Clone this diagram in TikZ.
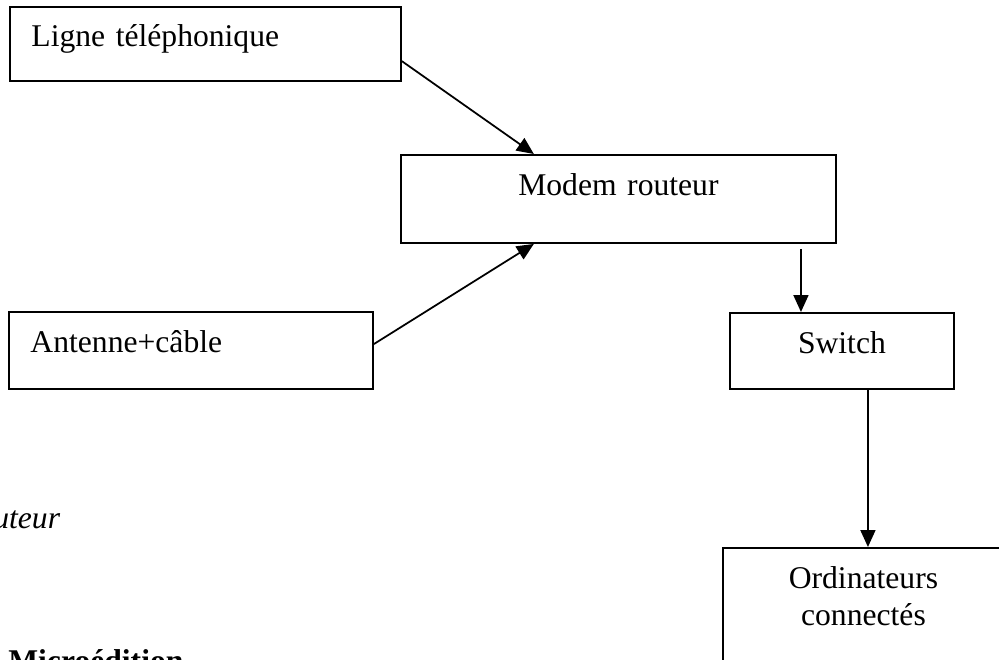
\documentclass[tikz,border=0pt]{standalone}
\usepackage{fontspec}
\setmainfont{Liberation Serif}
\usetikzlibrary{arrows.meta}

\tikzset{
  boite/.style = {draw, rectangle, line width=1.1pt, inner ysep=0pt, anchor=north west,
    font=\fontsize{18}{21}\selectfont, text height=0.44cm},
  fleche/.style = {line width=1pt, -{Triangle[length=0.34cm,width=0.3cm]}}
}

\begin{document}
\begin{tikzpicture}[x=0.02cm, y=-0.02cm]
  \clip (0,0) rectangle (999,659);

  \node[boite, inner xsep=0.43cm, text width=6.96cm, align=left, minimum height=1.48cm, text depth=0.32cm] (ligne) at (9,6) {Ligne téléphonique};
  \node[boite, inner xsep=0pt, text width=8.7cm, align=center, minimum height=1.76cm, text depth=0.56cm] (modem) at (400,154) {Modem routeur};
  \node[boite, inner xsep=0.43cm, text width=6.42cm, align=left, minimum height=1.54cm, text depth=0.34cm] (antenne) at (8,311) {Antenne+câble};
  \node[boite, inner xsep=0pt, text width=4.48cm, align=center, minimum height=1.52cm, text depth=0.32cm] (switch) at (729,312) {Switch};
  \node[boite, inner xsep=0pt, text width=5.62cm, align=center, minimum height=3.06cm, text depth=1.86cm] (ordi) at (722,547) {Ordinateurs\\connectés};

  \draw[fleche] (ligne.-5.8) -- (modem.152.5);
  \draw[fleche] (antenne.2.4) -- (modem.208);
  \draw[fleche] ([xshift=-0.82cm,yshift=-0.1cm]modem.south -| switch.north) -- ([xshift=-0.82cm]switch.north);
  \draw[fleche] ([xshift=0.52cm]switch.south) -- ([xshift=0.52cm]switch.south |- ordi.north);

  \node[font=\fontsize{18}{21}\selectfont\itshape, anchor=base west, inner sep=0pt] (routeur) at (-7,528) {uteur};
  \node[font=\fontsize{18}{21}\selectfont\bfseries, anchor=base west, inner sep=0pt] (micro) at (8,671) {Microédition};
\end{tikzpicture}
\end{document}
